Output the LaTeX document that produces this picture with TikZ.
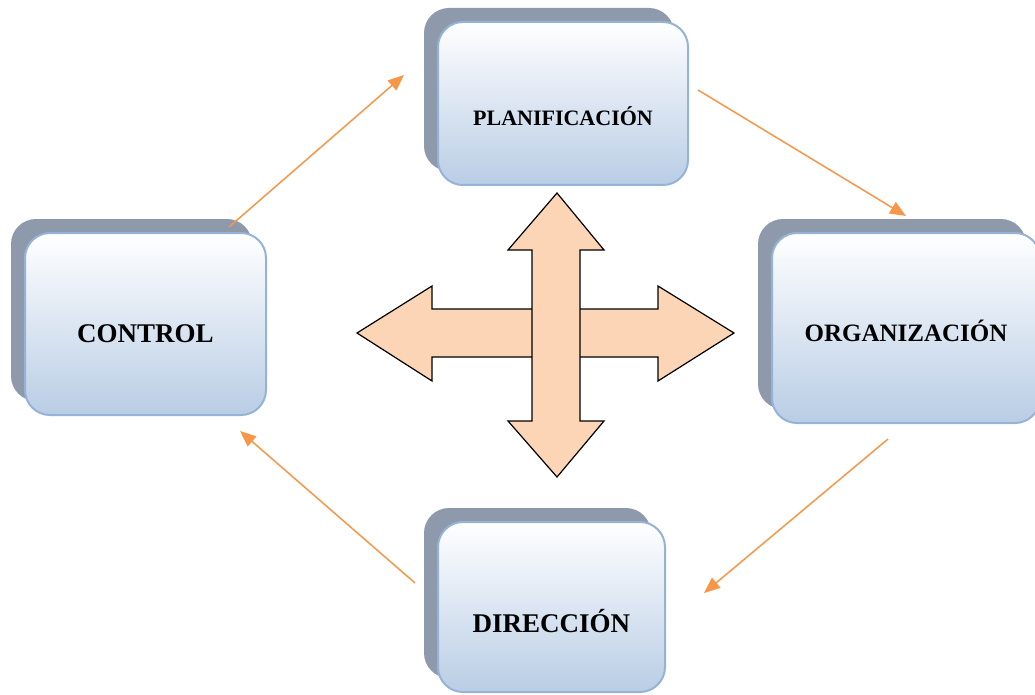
\documentclass[tikz,border=0pt]{standalone}
\usepackage{fontspec}
\setmainfont{Liberation Serif}
\usetikzlibrary{arrows.meta,shadows,calc}
\definecolor{boxblue}{HTML}{B9CDE5}
\definecolor{boxedge}{HTML}{95B3D7}
\definecolor{shadowgray}{HTML}{8E9AAB}
\definecolor{flowcolor}{HTML}{F79646}
\definecolor{crossfill}{HTML}{FBD5B5}
\begin{document}
\begin{tikzpicture}[x=1pt, y=-1pt,
    stage/.style={rectangle, rounded corners=25pt, draw=boxedge, line width=2pt,
        top color=white, bottom color=boxblue,
        drop shadow={shadow xshift=-14pt, shadow yshift=14pt, fill=shadowgray, opacity=1}},
    caption/.style={font=\bfseries\fontsize{#1}{#1}\selectfont},
    flow/.style={draw=flowcolor, line width=1.5pt, -{Triangle[length=16pt,width=13pt]}},
    cross/.style={draw=black, line width=1.2pt, fill=crossfill, line join=miter}
]
    \useasboundingbox (0,0) rectangle (1035,695);
    \clip (0,0) rectangle (1035,695);
    \node[stage, minimum width=250pt, minimum height=163pt,
        label={[caption=22, yshift=-13pt]center:PLANIFICACIÓN}] (plan) at (563,103.5) {};
    \node[stage, minimum width=241pt, minimum height=182pt,
        label={[caption=27, yshift=-10pt]center:CONTROL}] (ctrl) at (145.5,324) {};
    \node[stage, minimum width=268pt, minimum height=190pt,
        label={[caption=25, yshift=-3pt]center:ORGANIZACIÓN}] (org) at (906,328) {};
    \node[stage, minimum width=227pt, minimum height=170pt,
        label={[caption=27, yshift=-14pt]center:DIRECCIÓN}] (dir) at (551.5,607) {};
    \draw[flow] ($(ctrl.north east)+(-38,-5)$) -- ($(plan.west)+(-33,-28.5)$);
    \draw[flow] ($(plan.east)+(9,-13.5)$) -- ($(org.north)+(0,-16)$);
    \draw[flow] ($(org.south)+(-18,15)$) -- ($(dir.east)+(38,-14)$);
    \draw[flow] ($(dir.west)+(-22,-24)$) -- ($(ctrl.south east)+(-27,15)$);
    \draw[cross] (357,333) -- (432,286) -- (432,309) -- (658,309) -- (658,286)
        -- (734,333) -- (658,381) -- (658,357) -- (432,357) -- (432,381) -- cycle;
    \draw[cross] (557,193) -- (604,250) -- (580,250) -- (580,421) -- (604,421)
        -- (557,477) -- (508,421) -- (532,421) -- (532,250) -- (508,250) -- cycle;
\end{tikzpicture}
\end{document}
